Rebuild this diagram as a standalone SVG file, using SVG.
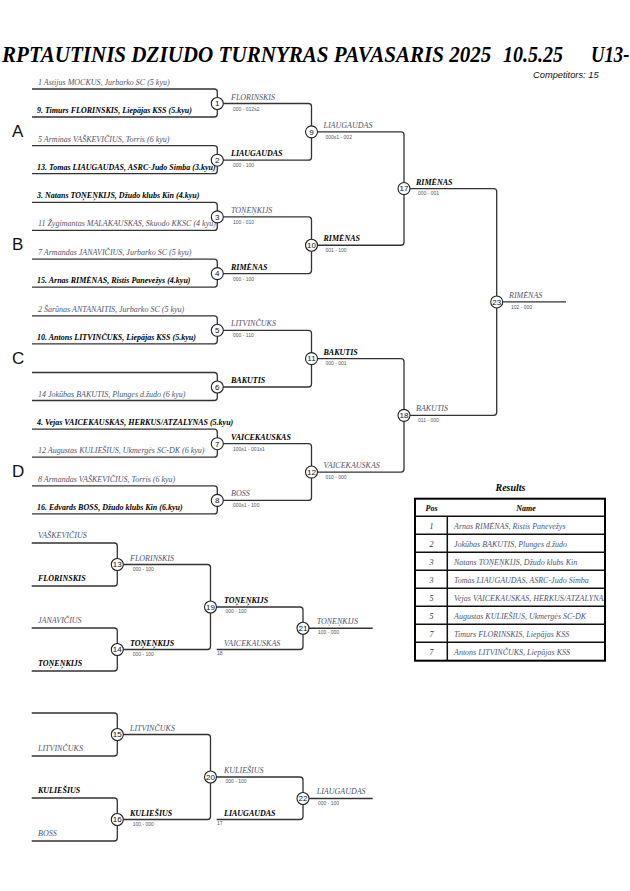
<svg xmlns="http://www.w3.org/2000/svg" width="630" height="891" viewBox="0 0 630 891">
<style>
.ln{fill:none;stroke:#333;stroke-width:1.3}
.cc{fill:#fff;stroke:#222;stroke-width:1.1}
.num{font-family:'Liberation Sans',Arial,sans-serif;font-size:8px;text-anchor:middle;fill:#111}
.e{font-family:'Liberation Serif','Times New Roman',serif;font-size:8px;font-style:italic}
.w{font-weight:bold;fill:#000}
.l{fill:#505570}
.sc{font-family:'Liberation Sans',Arial,sans-serif;font-size:5px;fill:#555}
.grp{font-family:'Liberation Sans',Arial,sans-serif;font-size:17px;fill:#111}
.hd{font-family:'Liberation Serif','Times New Roman',serif;font-style:italic;font-weight:bold;fill:#000}
.tl{fill:none;stroke:#111;stroke-width:1.5}
</style>
<defs>
<clipPath id="tclip"><rect x="416" y="499" width="188" height="161"/></clipPath>
</defs>
<rect width="630" height="891" fill="#fff"/>

<g id="title">
<text class="hd" font-size="24" transform="translate(2,62) scale(0.878,1)">RPTAUTINIS DZIUDO TURNYRAS PAVASARIS 2025</text>
<text class="hd" font-size="24" transform="translate(503,62) scale(0.835,1)">10.5.25</text>
<text class="hd" font-size="24" transform="translate(591,62) scale(0.78,1)">U13-</text>
<text x="533" y="78" font-family="'Liberation Sans',Arial,sans-serif" font-size="9.3" font-style="italic" fill="#111">Competitors: 15</text>
</g>

<g id="pools">
<text class="grp" x="12" y="137">A</text>
<text class="grp" x="12" y="250">B</text>
<text class="grp" x="12" y="364">C</text>
<text class="grp" x="12" y="477">D</text>
</g>

<g id="connectors">
<path class="ln" d="M32 89H214.3Q217.3 89 217.3 92V103.5M32 117H214.3Q217.3 117 217.3 114V103.5"/>
<path class="ln" d="M32 145.7H214.3Q217.3 145.7 217.3 148.7V160.2M32 173.7H214.3Q217.3 173.7 217.3 170.7V160.2"/>
<path class="ln" d="M32 202.4H214.3Q217.3 202.4 217.3 205.4V216.9M32 230.4H214.3Q217.3 230.4 217.3 227.4V216.9"/>
<path class="ln" d="M32 259.1H214.3Q217.3 259.1 217.3 262.1V273.6M32 287.1H214.3Q217.3 287.1 217.3 284.1V273.6"/>
<path class="ln" d="M32 315.8H214.3Q217.3 315.8 217.3 318.8V330.3M32 343.8H214.3Q217.3 343.8 217.3 340.8V330.3"/>
<path class="ln" d="M32 372.5H214.3Q217.3 372.5 217.3 375.5V387M32 400.5H214.3Q217.3 400.5 217.3 397.5V387"/>
<path class="ln" d="M32 429.2H214.3Q217.3 429.2 217.3 432.2V443.7M32 457.2H214.3Q217.3 457.2 217.3 454.2V443.7"/>
<path class="ln" d="M32 485.9H214.3Q217.3 485.9 217.3 488.9V500.4M32 513.9H214.3Q217.3 513.9 217.3 510.9V500.4"/>
<path class="ln" d="M217.3 103.5H308.5Q311.5 103.5 311.5 106.5V131.85M217.3 160.2H308.5Q311.5 160.2 311.5 157.2V131.85"/>
<path class="ln" d="M217.3 216.9H308.5Q311.5 216.9 311.5 219.9V245.25M217.3 273.6H308.5Q311.5 273.6 311.5 270.6V245.25"/>
<path class="ln" d="M217.3 330.3H308.5Q311.5 330.3 311.5 333.3V358.65M217.3 387H308.5Q311.5 387 311.5 384V358.65"/>
<path class="ln" d="M217.3 443.7H308.5Q311.5 443.7 311.5 446.7V472.05M217.3 500.4H308.5Q311.5 500.4 311.5 497.4V472.05"/>
<path class="ln" d="M311.5 131.85H401Q404 131.85 404 134.85V188.55M311.5 245.25H401Q404 245.25 404 242.25V188.55"/>
<path class="ln" d="M311.5 358.65H401Q404 358.65 404 361.65V415.35M311.5 472.05H401Q404 472.05 404 469.05V415.35"/>
<path class="ln" d="M404 188.55H493.7Q496.7 188.55 496.7 191.55V301.95M404 415.35H493.7Q496.7 415.35 496.7 412.35V301.95"/>
<path class="ln" d="M496.7 301.95H566"/>
<path class="ln" d="M31.7 543H114.3Q117.3 543 117.3 546V564.5M31.7 586H114.3Q117.3 586 117.3 583V564.5"/>
<path class="ln" d="M31.7 628H114.3Q117.3 628 117.3 631V649.5M31.7 671H114.3Q117.3 671 117.3 668V649.5"/>
<path class="ln" d="M31.7 713H114.3Q117.3 713 117.3 716V734.5M31.7 756H114.3Q117.3 756 117.3 753V734.5"/>
<path class="ln" d="M31.7 798H114.3Q117.3 798 117.3 801V819.5M31.7 841H114.3Q117.3 841 117.3 838V819.5"/>
<path class="ln" d="M117.3 564.5H207.5Q210.5 564.5 210.5 567.5V607M117.3 649.5H207.5Q210.5 649.5 210.5 646.5V607"/>
<path class="ln" d="M117.3 734.5H207.5Q210.5 734.5 210.5 737.5V777M117.3 819.5H207.5Q210.5 819.5 210.5 816.5V777"/>
<path class="ln" d="M210.5 607H300Q303 607 303 610V628.25M216.7 649.5H300Q303 649.5 303 646.5V628.25"/>
<path class="ln" d="M303 628.25H372.7"/>
<path class="ln" d="M210.5 777H300Q303 777 303 780V798.5M216.7 819.5H300Q303 819.5 303 816.5V798.5"/>
<path class="ln" d="M303 798.5H372.7"/>
</g>

<g id="entries">
<text class="e l" x="38" y="85">1  Astijus MOCKUS, Jurbarko SC (5 kyu)</text>
<text class="e w" x="37" y="113">9. Timurs FLORINSKIS, Liepājas KSS (5.kyu)</text>
<text class="e l" x="38" y="141.7">5  Arminas VAŠKEVIČIUS, Torris (6 kyu)</text>
<text class="e w" x="37" y="169.7">13. Tomas LIAUGAUDAS, ASRC-Judo Simba (3.kyu)</text>
<text class="e w" x="37" y="198.4">3. Natans TOŅEŅKIJS, Džudo klubs Kin (4.kyu)</text>
<text class="e l" x="38" y="226.4">11  Žygimantas MALAKAUSKAS, Skuodo KKSC (4 kyu)</text>
<text class="e l" x="38" y="255.1">7  Armandas JANAVIČIUS, Jurbarko SC (5 kyu)</text>
<text class="e w" x="37" y="283.1">15. Arnas RIMĖNAS, Ristis Panevežys (4.kyu)</text>
<text class="e l" x="38" y="311.8">2  Šarūnas ANTANAITIS, Jurbarko SC (5 kyu)</text>
<text class="e w" x="37" y="339.8">10. Antons LITVINČUKS, Liepājas KSS (5.kyu)</text>
<text class="e l" x="38" y="396.5">14  Jokūbas BAKUTIS, Plunges d.žudo (6 kyu)</text>
<text class="e w" x="37" y="425.2">4. Vejas VAICEKAUSKAS, HERKUS/ATZALYNAS (5.kyu)</text>
<text class="e l" x="38" y="453.2">12  Augustas KULIEŠIUS, Ukmergės SC-DK (6 kyu)</text>
<text class="e l" x="38" y="481.9">8  Armandas VAŠKEVIČIUS, Torris (6 kyu)</text>
<text class="e w" x="37" y="509.9">16. Edvards BOSS, Džudo klubs Kin (6.kyu)</text>
<text class="e l" x="38" y="538">VAŠKEVIČIUS</text>
<text class="e w" x="38" y="581">FLORINSKIS</text>
<text class="e l" x="38" y="623">JANAVIČIUS</text>
<text class="e w" x="38" y="666">TOŅEŅKIJS</text>
<text class="e l" x="38" y="751">LITVINČUKS</text>
<text class="e w" x="38" y="793">KULIEŠIUS</text>
<text class="e l" x="38" y="836">BOSS</text>
</g>

<g id="match-1"><circle class="cc" cx="217.3" cy="103.5" r="6"/><text class="num" x="217.3" y="106.3">1</text><text class="e l" x="231" y="99.5">FLORINSKIS</text><text class="sc" x="233" y="110.5">000 - 012s2</text></g>
<g id="match-2"><circle class="cc" cx="217.3" cy="160.2" r="6"/><text class="num" x="217.3" y="163">2</text><text class="e w" x="231" y="156.2">LIAUGAUDAS</text><text class="sc" x="233" y="167.2">000 - 100</text></g>
<g id="match-3"><circle class="cc" cx="217.3" cy="216.9" r="6"/><text class="num" x="217.3" y="219.7">3</text><text class="e l" x="231" y="212.9">TOŅEŅKIJS</text><text class="sc" x="233" y="223.9">100 - 010</text></g>
<g id="match-4"><circle class="cc" cx="217.3" cy="273.6" r="6"/><text class="num" x="217.3" y="276.4">4</text><text class="e w" x="231" y="269.6">RIMĖNAS</text><text class="sc" x="233" y="280.6">000 - 100</text></g>
<g id="match-5"><circle class="cc" cx="217.3" cy="330.3" r="6"/><text class="num" x="217.3" y="333.1">5</text><text class="e l" x="231" y="326.3">LITVINČUKS</text><text class="sc" x="233" y="337.3">000 - 110</text></g>
<g id="match-6"><circle class="cc" cx="217.3" cy="387" r="6"/><text class="num" x="217.3" y="389.8">6</text><text class="e w" x="231" y="383">BAKUTIS</text></g>
<g id="match-7"><circle class="cc" cx="217.3" cy="443.7" r="6"/><text class="num" x="217.3" y="446.5">7</text><text class="e w" x="231" y="439.7">VAICEKAUSKAS</text><text class="sc" x="233" y="450.7">100s1 - 001s1</text></g>
<g id="match-8"><circle class="cc" cx="217.3" cy="500.4" r="6"/><text class="num" x="217.3" y="503.2">8</text><text class="e l" x="231" y="496.4">BOSS</text><text class="sc" x="233" y="507.4">000s1 - 100</text></g>

<g id="match-9"><circle class="cc" cx="311.5" cy="131.85" r="6"/><text class="num" x="311.5" y="134.65">9</text><text class="e l" x="323.5" y="127.85">LIAUGAUDAS</text><text class="sc" x="325.5" y="138.5">000s1 - 002</text></g>
<g id="match-10"><circle class="cc" cx="311.5" cy="245.25" r="6"/><text class="num" x="311.5" y="248.05">10</text><text class="e w" x="323.5" y="241.25">RIMĖNAS</text><text class="sc" x="325.5" y="251.9">001 - 100</text></g>
<g id="match-11"><circle class="cc" cx="311.5" cy="358.65" r="6"/><text class="num" x="311.5" y="361.45">11</text><text class="e w" x="323.5" y="354.65">BAKUTIS</text><text class="sc" x="325.5" y="365.3">000 - 001</text></g>
<g id="match-12"><circle class="cc" cx="311.5" cy="472.05" r="6"/><text class="num" x="311.5" y="474.85">12</text><text class="e l" x="323.5" y="468.05">VAICEKAUSKAS</text><text class="sc" x="325.5" y="478.7">010 - 000</text></g>

<g id="match-17"><circle class="cc" cx="404" cy="188.55" r="6"/><text class="num" x="404" y="191.35">17</text><text class="e w" x="416" y="184.55">RIMĖNAS</text><text class="sc" x="418" y="195.2">000 - 001</text></g>
<g id="match-18"><circle class="cc" cx="404" cy="415.35" r="6"/><text class="num" x="404" y="418.15">18</text><text class="e l" x="416" y="411.35">BAKUTIS</text><text class="sc" x="418" y="422">011 - 000</text></g>
<g id="match-23"><circle class="cc" cx="496.7" cy="301.95" r="6"/><text class="num" x="496.7" y="304.75">23</text><text class="e l" x="509" y="297.95">RIMĖNAS</text><text class="sc" x="511" y="308.6">102 - 000</text></g>

<g id="match-13"><circle class="cc" cx="117.3" cy="564.5" r="6"/><text class="num" x="117.3" y="567.3">13</text><text class="e l" x="130" y="560.5">FLORINSKIS</text><text class="sc" x="132.7" y="570.8">000 - 100</text></g>
<g id="match-14"><circle class="cc" cx="117.3" cy="649.5" r="6"/><text class="num" x="117.3" y="652.3">14</text><text class="e w" x="130" y="645.5">TOŅEŅKIJS</text><text class="sc" x="132.7" y="655.8">000 - 100</text></g>
<g id="match-15"><circle class="cc" cx="117.3" cy="734.5" r="6"/><text class="num" x="117.3" y="737.3">15</text><text class="e l" x="130" y="730.5">LITVINČUKS</text></g>
<g id="match-16"><circle class="cc" cx="117.3" cy="819.5" r="6"/><text class="num" x="117.3" y="822.3">16</text><text class="e w" x="130" y="815.5">KULIEŠIUS</text><text class="sc" x="132.7" y="825.8">100 - 000</text></g>
<g id="match-19"><circle class="cc" cx="210.5" cy="607" r="6"/><text class="num" x="210.5" y="609.8">19</text><text class="e w" x="224" y="602.5">TOŅEŅKIJS</text><text class="sc" x="225.5" y="613">000 - 100</text><text class="e l" x="224" y="645.5">VAICEKAUSKAS</text><text class="sc" x="217" y="654.5">18</text></g>
<g id="match-21"><circle class="cc" cx="303" cy="628.25" r="6"/><text class="num" x="303" y="631.05">21</text><text class="e l" x="316.7" y="623.5">TOŅEŅKIJS</text><text class="sc" x="318" y="634">100 - 000</text></g>
<g id="match-20"><circle class="cc" cx="210.5" cy="777" r="6"/><text class="num" x="210.5" y="779.8">20</text><text class="e l" x="224" y="772.5">KULIEŠIUS</text><text class="sc" x="225.5" y="783">000 - 100</text><text class="e w" x="224" y="815.5">LIAUGAUDAS</text><text class="sc" x="217" y="824.5">17</text></g>
<g id="match-22"><circle class="cc" cx="303" cy="798.5" r="6"/><text class="num" x="303" y="801.3">22</text><text class="e l" x="316.7" y="793.8">LIAUGAUDAS</text><text class="sc" x="318" y="804.5">000 - 100</text></g>

<g id="results">
<text class="hd" font-size="10" x="510.5" y="491" text-anchor="middle">Results</text>
<rect x="415" y="498.7" width="190" height="162" fill="#fff" stroke="#000" stroke-width="2"/>
<path class="tl" d="M415 516.3H605M415 534.3H605M415 552.3H605M415 570.3H605M415 588.3H605M415 606.3H605M415 624.3H605M415 642.3H605M447.3 516.3V660.7"/>
<text class="hd" font-size="8" x="431.5" y="510.5" text-anchor="middle">Pos</text>
<text class="hd" font-size="8" x="526" y="510.5" text-anchor="middle">Name</text>
<g class="e" fill="#333" text-anchor="middle">
<text x="431.5" y="528.5">1</text>
<text x="431.5" y="546.5">2</text>
<text x="431.5" y="564.5">3</text>
<text x="431.5" y="582.5">3</text>
<text x="431.5" y="600.5">5</text>
<text x="431.5" y="618.5">5</text>
<text x="431.5" y="636.5">7</text>
<text x="431.5" y="654.5">7</text>
</g>
<g class="e l" clip-path="url(#tclip)">
<text x="454" y="528.5">Arnas RIMĖNAS, Ristis Panevežys</text>
<text x="454" y="546.5">Jokūbas BAKUTIS, Plunges d.žudo</text>
<text x="454" y="564.5">Natans TOŅEŅKIJS, Džudo klubs Kin</text>
<text x="454" y="582.5">Tomas LIAUGAUDAS, ASRC-Judo Simba</text>
<text x="454" y="600.5">Vejas VAICEKAUSKAS, HERKUS/ATZALYNAS</text>
<text x="454" y="618.5">Augustas KULIEŠIUS, Ukmergės SC-DK</text>
<text x="454" y="636.5">Timurs FLORINSKIS, Liepājas KSS</text>
<text x="454" y="654.5">Antons LITVINČUKS, Liepājas KSS</text>
</g>
</g>
</svg>
